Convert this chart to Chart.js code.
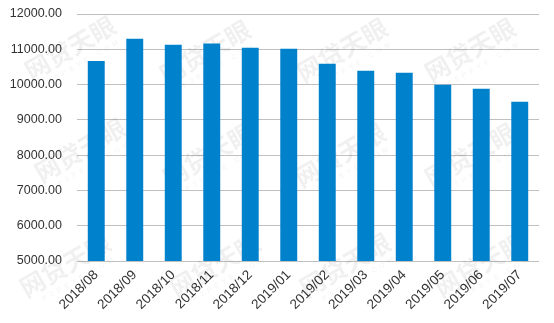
<!DOCTYPE html>
<html>
<head>
<meta charset="utf-8">
<script src="https://cdn.jsdelivr.net/npm/chart.js@4/dist/chart.umd.min.js"></script>
<style>
  html, body { margin: 0; padding: 0; background: #fff; }
  #wrap { width: 554px; height: 323px; }
</style>
</head>
<body>
<div id="wrap"><canvas id="chart" width="554" height="323"></canvas></div>
<script>
// données
const months = ["2018/08", "2018/09", "2018/10", "2018/11", "2018/12", "2019/01",
  "2019/02", "2019/03", "2019/04", "2019/05", "2019/06", "2019/07"];
const amounts = [10670, 11300, 11130, 11165, 11045, 11015, 10590, 10390, 10335, 9995, 9880, 9510];
const yMin = 5000;
const yMax = 12000;
const yStep = 1000;

// filigrane "网贷天眼"
const watermark = {
  id: "watermark",
  beforeDatasetsDraw(chart) {
    const ctx = chart.ctx;
    const spots = [[70, 48], [205, 52], [342, 50], [470, 50],
      [80, 150], [208, 155], [340, 155], [470, 155],
      [65, 265], [215, 265], [345, 265], [480, 265]];
    ctx.save();
    spots.forEach(([x, y]) => {
      ctx.save();
      ctx.translate(x, y);
      ctx.rotate(-Math.PI / 6);
      ctx.fillStyle = "rgba(0,0,0,0.06)";
      ctx.textAlign = "center";
      ctx.textBaseline = "middle";
      ctx.font = "bold 25px 'Noto Sans CJK SC'";
      ctx.fillText("网贷天眼", 0, 0);
      ctx.font = "7px 'Liberation Sans'";
      ctx.fillText("P  2  P  E  Y  E  .  C  O  M", 4, 19);
      ctx.restore();
    });
    ctx.restore();
  },
};

new Chart(document.getElementById("chart"), {
  type: "bar",
  data: {
    labels: months,
    datasets: [{
      data: amounts,
      backgroundColor: "#0081CC",
      borderWidth: 0,
      categoryPercentage: 1,
      barPercentage: 0.44,
    }],
  },
  options: {
    responsive: false,
    animation: false,
    layout: { padding: { top: 0, right: 15, bottom: 0, left: 0 } },
    plugins: { legend: { display: false }, tooltip: { enabled: false } },
    scales: {
      x: {
        grid: { display: false, drawTicks: false },
        border: { display: false },
        ticks: {
          color: "#333",
          font: { family: "'Liberation Sans'", size: 13.5 },
          maxRotation: 45,
          minRotation: 45,
          padding: 6,
          autoSkip: false,
        },
        afterFit: (axis) => { axis.height = 62; },
      },
      y: {
        min: yMin,
        max: yMax,
        grid: { color: "#c0c0c0", lineWidth: 1, drawTicks: false },
        border: { display: false },
        ticks: {
          stepSize: yStep,
          color: "#333",
          font: { family: "'Liberation Sans'", size: 12.5 },
          padding: 15,
          callback: (v) => v.toFixed(2),
        },
        afterFit: (axis) => {
          axis.width = 77;
          axis.paddingTop = 14;
          axis.paddingBottom = 0;
        },
      },
    },
  },
  plugins: [watermark],
});
</script>
</body>
</html>
